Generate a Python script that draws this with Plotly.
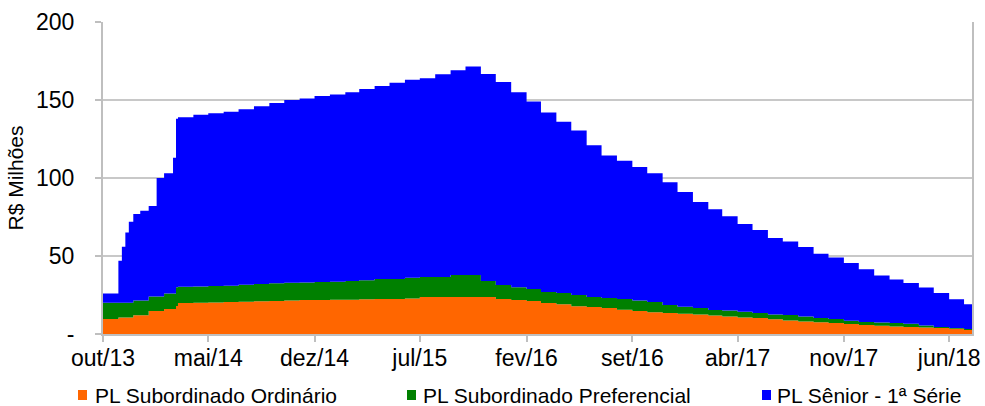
import plotly.graph_objects as go

dates = [
    "2013-10-01", "2013-11-01", "2013-11-08", "2013-11-15", "2013-11-22",
    "2013-12-01", "2013-12-15", "2014-01-01", "2014-01-17", "2014-02-01",
    "2014-02-19", "2014-02-25", "2014-03-01",
    "2014-04-01", "2014-05-01", "2014-06-01", "2014-07-01", "2014-08-01", "2014-09-01",
    "2014-10-01", "2014-11-01", "2014-12-01", "2015-01-01", "2015-02-01", "2015-03-01",
    "2015-04-01", "2015-05-01", "2015-06-01", "2015-07-01", "2015-08-01", "2015-09-01",
    "2015-10-01", "2015-11-01", "2015-12-01", "2016-01-01", "2016-02-01", "2016-03-01",
    "2016-04-01", "2016-05-01", "2016-06-01", "2016-07-01", "2016-08-01", "2016-09-01",
    "2016-10-01", "2016-11-01", "2016-12-01", "2017-01-01", "2017-02-01", "2017-03-01",
    "2017-04-01", "2017-05-01", "2017-06-01", "2017-07-01", "2017-08-01", "2017-09-01",
    "2017-10-01", "2017-11-01", "2017-12-01", "2018-01-01", "2018-02-01", "2018-03-01",
    "2018-04-01", "2018-05-01", "2018-06-01", "2018-07-01", "2018-07-17",
]

pl_sub_ordinario = [
    9.6, 10.5, 10.5, 10.5, 10.5, 12, 12, 14.7, 14.7, 16, 16, 18, 19.8,
    20, 20.2, 20.5, 20.7, 21, 21.2,
    21.5, 21.8, 21.8, 22, 22, 22.2,
    22.4, 22.4, 22.8, 23.7, 23.7, 23.7,
    23.7, 23.7, 22.4, 21.8, 21.2, 19.8,
    19, 17.8, 17.3, 16.7, 15.5, 14.7,
    14, 13.5, 13, 12.5, 11.8, 11.2,
    10.6, 10.2, 9.5, 8.6, 8, 7.5,
    7, 6.4, 5.8, 5.3, 4.8, 4.5,
    4.2, 3.8, 3.3, 2.6, 2.6,
]

pl_sub_preferencial = [
    10.4, 9.5, 9.5, 9.5, 9.5, 9.5, 9.5, 9.3, 9.3, 10, 10, 12, 10.5,
    10.5, 10.6, 10.5, 10.8, 11, 11.3,
    11.3, 11.2, 11.5, 11.5, 12, 12.3,
    12.9, 12.9, 13.2, 12.8, 12.8, 14.1,
    14.1, 10.3, 9, 8.2, 7.6, 7.2,
    7.3, 7.2, 6.4, 6.3, 6.9, 6.8,
    6.5, 5.1, 4.5, 4.2, 3.6, 3.8,
    3.6, 3.3, 3, 3.6, 3.2, 2.8,
    2.6, 2.1, 1.9, 2, 2.2, 2,
    1.3, 0.7, 0.5, 0.6, 0.6,
]

pl_senior = [
    6, 27, 36, 45, 52, 55.5, 57.5, 58, 76, 77, 87, 108, 108.7,
    110, 110.7, 111.5, 112.5, 114, 115.5,
    117.2, 118, 119.2, 120, 121, 122.5,
    123.7, 125.7, 127, 127.5, 130, 131.2,
    133.7, 132.7, 130.1, 125, 120.2, 115,
    109.7, 105.5, 97.3, 91.5, 88.6, 85.5,
    82.5, 78.7, 73.5, 67.9, 64.6, 60.5,
    56.3, 53.2, 49, 47.1, 44.6, 41.2,
    39.4, 37, 33.8, 30.2, 28, 26.2,
    24.3, 21.8, 18.4, 15.8, 15.8,
]

series_names = ["PL Subordinado Ordinário", "PL Subordinado Preferencial", "PL Sênior - 1ª Série"]
series_colors = ["#FF6600", "#008000", "#0000FF"]

tick_dates = ["2013-10-01", "2014-05-01", "2014-12-01", "2015-07-01", "2016-02-01",
              "2016-09-01", "2017-04-01", "2017-11-01", "2018-06-01"]
tick_labels = ["out/13", "mai/14", "dez/14", "jul/15", "fev/16",
               "set/16", "abr/17", "nov/17", "jun/18"]
y_ticks = [0, 50, 100, 150, 200]
y_labels = ["-", "50", "100", "150", "200"]

FONT = "Liberation Sans, Arial, sans-serif"
L, R, T, B = 103, 13, 22, 72
W, H = 985, 406
PW, PH = W - L - R, H - T - B


def px_x(p):
    return (p - L) / PW


def px_y(p):
    return (H - B - p) / PH


fig = go.Figure()
for name, vals, col in zip(series_names, [pl_sub_ordinario, pl_sub_preferencial, pl_senior], series_colors):
    fig.add_trace(go.Scatter(
        x=dates, y=vals, name=name, stackgroup="one", mode="lines",
        line=dict(width=0, shape="hv", color=col), fillcolor=col,
        hoverinfo="x+y+name",
    ))

# legend drawn as squares + text (single row, like the reference)
legend_square_left = [78, 407, 762]
legend_text_left = [93, 421, 775]
legend_cy = 395
for name, col, sq, tx in zip(series_names, series_colors, legend_square_left, legend_text_left):
    fig.add_shape(type="rect", xref="paper", yref="paper",
                  x0=px_x(sq), x1=px_x(sq + 9), y0=px_y(legend_cy + 5), y1=px_y(legend_cy - 5),
                  fillcolor=col, line=dict(width=0))
    fig.add_annotation(text=name, xref="paper", yref="paper", x=px_x(tx), y=px_y(legend_cy),
                       xanchor="left", yanchor="middle", showarrow=False,
                       font=dict(family=FONT, size=21, color="black"))

fig.update_layout(
    width=W, height=H,
    margin=dict(l=L, r=R, t=T, b=B),
    paper_bgcolor="white", plot_bgcolor="white",
    font=dict(family=FONT, size=21, color="black"),
    showlegend=False,
    xaxis=dict(
        type="date", range=["2013-10-01", "2018-07-17"],
        tickmode="array", tickvals=tick_dates, ticktext=tick_labels,
        showgrid=False, showline=True, linecolor="#BFBFBF", linewidth=2,
        ticks="outside", ticklen=6, tickcolor="#BFBFBF", tickwidth=2,
        ticklabelstandoff=-4,
        tickfont=dict(family=FONT, size=23), zeroline=False, automargin=False,
    ),
    yaxis=dict(
        range=[0, 200], tickmode="array", tickvals=y_ticks, ticktext=y_labels,
        showgrid=True, gridcolor="#C8C8C8", gridwidth=2,
        showline=True, linecolor="#BFBFBF", linewidth=2, mirror=True,
        ticks="outside", ticklen=6, tickcolor="#BFBFBF", tickwidth=2,
        ticklabelstandoff=16,
        tickfont=dict(family=FONT, size=23), zeroline=False, automargin=False,
        title=dict(text="R$ Milhões", font=dict(family=FONT, size=21), standoff=7),
    ),
)

fig.write_html("out.html", config={"displayModeBar": False},
               post_script="document.body.style.margin='0px';")
